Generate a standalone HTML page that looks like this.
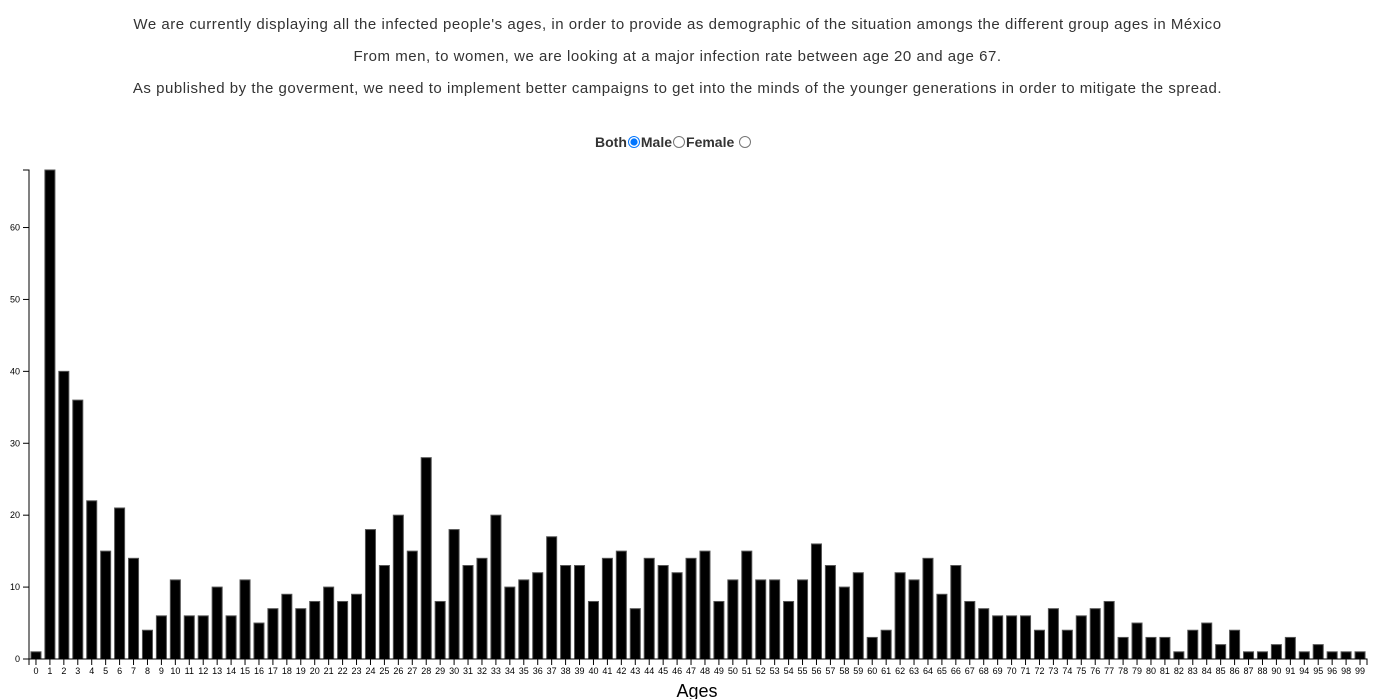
<!DOCTYPE html>
<html><head><meta charset="utf-8"><style>
body{margin:0;background:#fff;font-family:"Liberation Sans",Arial,sans-serif;width:1381px;height:699px;overflow:hidden;position:relative}
p{position:absolute;left:0;width:1355px;text-align:center;margin:0;font-size:15px;letter-spacing:0.53px;color:#333}
#ctl{position:absolute;top:134px;left:595px;font-size:14px;font-weight:bold;color:#333}
#ctl input{margin:0 1px;width:12px;height:12px;vertical-align:-1px}
svg{position:absolute;left:0;top:0}
</style></head><body>
<p style="top:16px">We are currently displaying all the infected people's ages, in order to provide as demographic of the situation amongs the different group ages in México</p>
<p style="top:48px">From men, to women, we are looking at a major infection rate between age 20 and age 67.</p>
<p style="top:80px">As published by the goverment, we need to implement better campaigns to get into the minds of the younger generations in order to mitigate the spread.</p>
<div id="ctl">Both<input type="radio" name="g" checked>Male<input type="radio" name="g">Female<input type="radio" name="g" style="margin-left:5px"></div>
<svg id="chart" width="1381" height="699"></svg>
<script>
const ages=[];for(let i=0;i<=88;i++)ages.push(i);ages.push(90,91,94,95,96,98,99);
const counts=[1,68,40,36,22,15,21,14,4,6,11,6,6,10,6,11,5,7,9,7,8,10,8,9,18,13,20,15,28,8,18,13,14,20,10,11,12,17,13,13,8,14,15,7,14,13,12,14,15,8,11,15,11,11,8,11,16,13,10,12,3,4,12,11,14,9,13,8,7,6,6,6,4,7,4,6,7,8,3,5,3,3,1,4,5,2,4,1,1,2,3,1,2,1,1,1];
const yTicks=[0,10,20,30,40,50,60];
const yMax=68;
const svg=document.getElementById('chart');const NS='http://www.w3.org/2000/svg';
const x0=29,x1=1367,y0=659,yT=170;
const step=(x1-x0)/ages.length,bw=step*0.72;
const X=i=>x0+i*step+(step-bw)/2,Y=v=>y0-(v/yMax)*(y0-yT);
function el(t,a){const e=document.createElementNS(NS,t);for(const k in a)e.setAttribute(k,a[k]);svg.appendChild(e);return e;}
counts.forEach((v,i)=>{const r=el('rect',{x:X(i),y:Y(v),width:bw,height:y0-Y(v),fill:'#000',stroke:'#555','stroke-width':1});

});
const ya=el('path',{d:`M${x0-6},${yT}H${x0}V${y0}H${x0-6}`,fill:'none',stroke:'#000'});


yTicks.forEach(t=>{el('line',{x1:x0-6,x2:x0,y1:Y(t),y2:Y(t),stroke:'#000'});
const tx=el('text',{x:x0-9,y:Y(t)+3,'font-size':9,'text-anchor':'end'});tx.textContent=t;

});
const xa=el('path',{d:`M${x0},${y0+6}V${y0}H${x1}V${y0+6}`,fill:'none',stroke:'#000'});


ages.forEach((a,i)=>{const c=x0+i*step+step/2;el('line',{x1:c,x2:c,y1:y0,y2:y0+6,stroke:'#000'});
const tx=el('text',{x:c,y:y0+15,'font-size':9,'text-anchor':'middle'});tx.textContent=a;

});
const t=el('text',{x:697,y:697,'font-size':18,'text-anchor':'middle'});t.textContent='Ages';


</script>
</body></html>
